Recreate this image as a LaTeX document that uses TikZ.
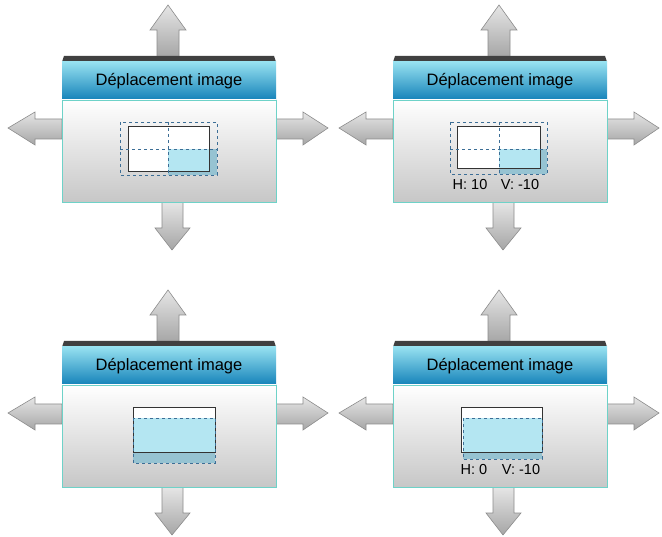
\documentclass[tikz,border=0pt]{standalone}
\usepackage{fontspec}
\setmainfont{Liberation Sans}
\definecolor{hdrtop}{RGB}{150,225,240}
\definecolor{hdrbot}{RGB}{20,130,185}
\definecolor{frame}{RGB}{110,210,200}
\definecolor{picblue}{RGB}{180,230,242}
\definecolor{picdark}{RGB}{150,195,210}
\definecolor{dashblue}{RGB}{60,110,150}

\newcommand{\panel}[3]{%
  \begin{scope}[shift={(#1,#2)}]
    % arrows
    \draw[Arrow] (157,57) -- (157,30) -- (150,30) -- (168,5) -- (186,30) -- (179,30) -- (179,57) -- cycle;
    \draw[Arrow] (162,202) -- (162,228) -- (155,228) -- (172,250) -- (190,228) -- (183,228) -- (183,202) -- cycle;
    \draw[Arrow] (62,119) -- (35,119) -- (35,112) -- (8,128) -- (35,145) -- (35,139) -- (62,139) -- cycle;
    \draw[Arrow] (276,119) -- (303,119) -- (303,112) -- (328,128) -- (303,145) -- (303,139) -- (276,139) -- cycle;
    % window
    \fill[black!75] (64,56) -- (274,56) -- (276,62) -- (62,62) -- cycle;
    \shade[top color=hdrtop, bottom color=hdrbot] (62,62) rectangle (276,100);
    \shade[top color=white, bottom color=black!22, draw=frame, thick] (62,100) rectangle (276,202);
    #3
  \end{scope}}

\begin{document}
\begin{tikzpicture}[x=1pt, y=-1pt,
    Arrow/.style={draw=black!45, line width=0.6pt, top color=black!10, bottom color=black!35},
    Title/.style={font=\fontsize{16.5}{18}\selectfont},
    Value/.style={font=\fontsize{14.5}{16}\selectfont},
    Frame/.style={draw=black!80, line width=0.8pt},
    Dash/.style={draw=dashblue, dashed, line width=0.6pt}]
  \useasboundingbox (0,0) rectangle (662,537);

  \panel{0}{0}{%
    \fill[picdark] (168,149) rectangle (217,175);
    \fill[white] (128,126) rectangle (209,171);
    \fill[picblue] (168,149) rectangle (209,171);
    \draw[Frame] (128,126) rectangle (209,171);
    \draw[Dash] (120,122) rectangle (217,175);
    \draw[Dash] (168,122) -- (168,175) (120,149) -- (217,149);
    \node[Title] (title1) at (169,81) {Déplacement image};}

  \panel{331}{0}{%
    \fill[picdark] (168,149) rectangle (216,174);
    \fill[white] (126,126) rectangle (209,168);
    \fill[picblue] (168,149) rectangle (209,168);
    \draw[Frame] (126,126) rectangle (209,168);
    \draw[Dash] (119,122) rectangle (216,174);
    \draw[Dash] (168,122) -- (168,174) (119,149) -- (216,149);
    \node[Title] (title2) at (169,81) {Déplacement image};
    \node[Value] (hval2) at (139,185) {H: 10};
    \node[Value] (vval2) at (189,185) {V: -10};}

  \panel{0}{285}{%
    \fill[white] (133,122) rectangle (215,167);
    \fill[picdark] (133,133) rectangle (215,178);
    \fill[picblue] (133,133) rectangle (215,167);
    \draw[Frame] (133,122) rectangle (215,167);
    \draw[Dash] (133,133) rectangle (215,178);
    \node[Title] (title3) at (169,81) {Déplacement image};}

  \panel{331}{285}{%
    \fill[white] (130,122) rectangle (211,167);
    \fill[picdark] (132,133) rectangle (211,174);
    \fill[picblue] (132,133) rectangle (211,167);
    \draw[Frame] (130,122) rectangle (211,167);
    \draw[Dash] (132,133) rectangle (211,174);
    \node[Title] (title4) at (169,81) {Déplacement image};
    \node[Value] (hval4) at (143,185) {H: 0};
    \node[Value] (vval4) at (190,185) {V: -10};}
\end{tikzpicture}
\end{document}
